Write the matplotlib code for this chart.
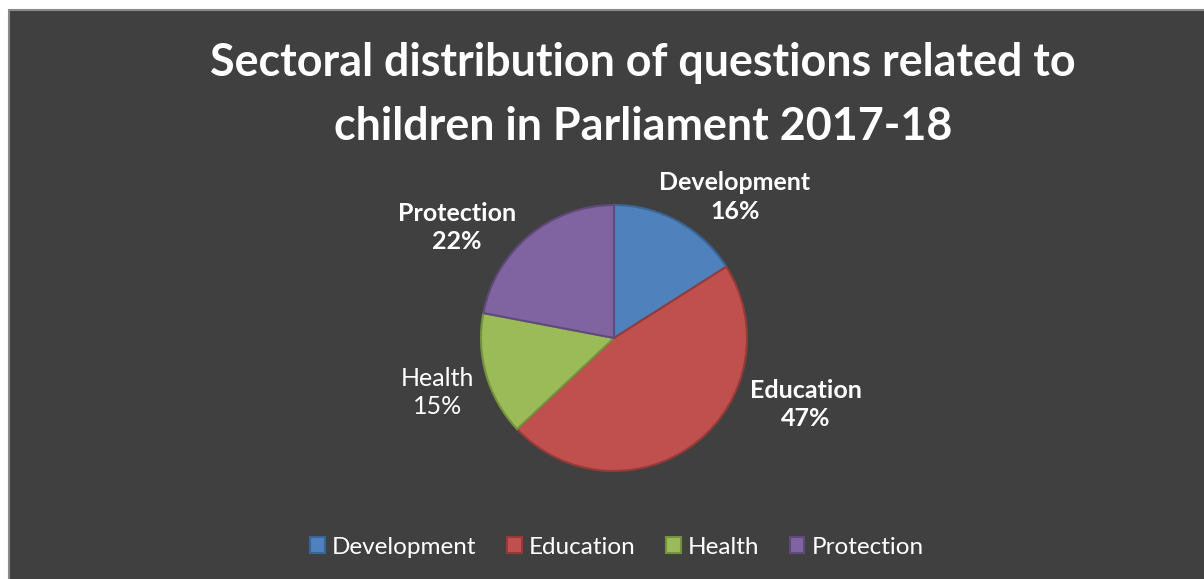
import matplotlib
matplotlib.use("Agg")
import matplotlib.pyplot as plt
from matplotlib.patches import Rectangle, Patch

# Sector shares of child-related parliamentary questions
sectors = ["Development", "Education", "Health", "Protection"]
shares = [16, 47, 15, 22]
fill_colors = ["#4F81BD", "#C0504D", "#9BBB59", "#8064A2"]
edge_colors = ["#3A6596", "#943B39", "#76923C", "#5F4A7B"]
label_bold = [True, True, False, True]
# label anchor points in pie units (radius = 1)
label_xy = [(0.91, 1.06), (1.44, -0.50), (-1.33, -0.41), (-1.18, 0.83)]

W, H = 1204, 579
fig = plt.figure(figsize=(W / 100, H / 100), dpi=100)
fig.patch.set_facecolor("white")
plt.rcParams["font.family"] = ["Lato", "DejaVu Sans"]

# dark chart area (runs off the right and bottom edges)
top = 1 - 10 / H
fig.patches.append(Rectangle((9 / W, -0.1), 1.2, top + 0.1, transform=fig.transFigure,
                             facecolor="#404040", edgecolor="#8A8A8A", linewidth=1.5,
                             zorder=-5))

fig.text(643 / W, 1 - 63 / H, "Sectoral distribution of questions related to",
         ha="center", va="center", color="white", fontsize=32.3, fontweight="bold")
fig.text(643 / W, 1 - 127 / H, "children in Parliament 2017-18",
         ha="center", va="center", color="white", fontsize=32.3, fontweight="bold")

cx, cy, r = 614, 338, 133
ax = fig.add_axes([(cx - r) / W, (H - cy - r) / H, 2 * r / W, 2 * r / H])
ax.set_zorder(3)
ax.set_facecolor("none")
wedges, _ = ax.pie(shares, colors=fill_colors, startangle=90, counterclock=False,
                   wedgeprops=dict(linewidth=1.5))
for w, ec in zip(wedges, edge_colors):
    w.set_edgecolor(ec)
ax.set_xlim(-1, 1)
ax.set_ylim(-1, 1)
ax.set_aspect("equal")
ax.axis("off")

for name, val, bold, (lx, ly) in zip(sectors, shares, label_bold, label_xy):
    ax.text(lx, ly, f"{name}\n{val}%", ha="center", va="center", color="white",
            fontsize=18, fontweight="bold" if bold else "normal", linespacing=1.3,
            clip_on=False)

handles = [Patch(facecolor=fc, edgecolor=ec, linewidth=1.5) for fc, ec in zip(fill_colors, edge_colors)]
fig.legend(handles, sectors, loc="center", bbox_to_anchor=(617 / W, 1 - 547 / H),
           ncol=4, frameon=False, fontsize=17.5, labelcolor="white",
           handlelength=0.6, handleheight=0.6, handletextpad=0.3, columnspacing=1.25)

fig.savefig("out.png", dpi=100, facecolor=fig.get_facecolor())
